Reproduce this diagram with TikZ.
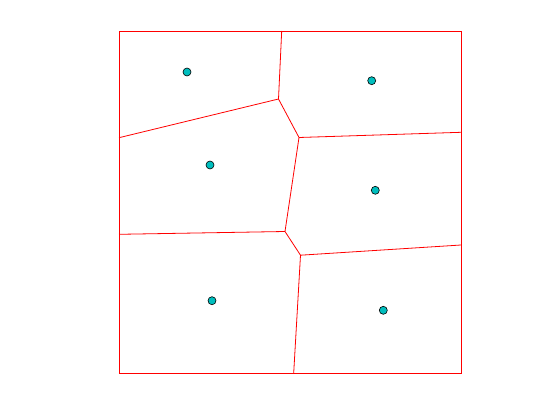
\documentclass[tikz,border=0pt]{standalone}
\usetikzlibrary{positioning}
\definecolor{siteteal}{RGB}{0,190,190}
\tikzset{
cellline/.style={
  draw=red,
  line width=0.8pt
  },
site/.style={
  circle,
  draw=black,
  fill=siteteal,
  line width=0.6pt,
  inner sep=0pt,
  minimum size=8pt
  }
}
\begin{document}
\begin{tikzpicture}[x=1pt,y=-1pt]
\useasboundingbox (0,0) rectangle (560,420);

% box
\coordinate (nw) at (119,31);
\coordinate (se) at (461,373);
\draw[cellline] (nw) rectangle (se);

% vertices and border hits
\coordinate (top) at (281.7,31);
\coordinate (left1) at (119,137.7);
\coordinate (left2) at (119,234.3);
\coordinate (right1) at (461,132.3);
\coordinate (right2) at (461,245);
\coordinate (bot) at (293.7,373);
\coordinate (v1) at (278.5,99);
\coordinate (v2) at (299,137.5);
\coordinate (v3) at (285,231.5);
\coordinate (v4) at (300.5,255.2);

\draw[cellline] (top) -- (v1);
\draw[cellline] (v1) -- (left1);
\draw[cellline] (v1) -- (v2);
\draw[cellline] (v2) -- (right1);
\draw[cellline] (v2) -- (v3);
\draw[cellline] (v3) -- (left2);
\draw[cellline] (v3) -- (v4);
\draw[cellline] (v4) -- (right2);
\draw[cellline] (v4) -- (bot);

% sites
\node[site] (s1) at (187,72) {};
\node[site] (s2) at (371.7,80.7) {};
\node[site] (s3) at (210,165) {};
\node[site] (s4) at (375.3,190.3) {};
\node[site] (s5) at (212,300.7) {};
\node[site] (s6) at (383.3,310.3) {};

\end{tikzpicture}
\end{document}
